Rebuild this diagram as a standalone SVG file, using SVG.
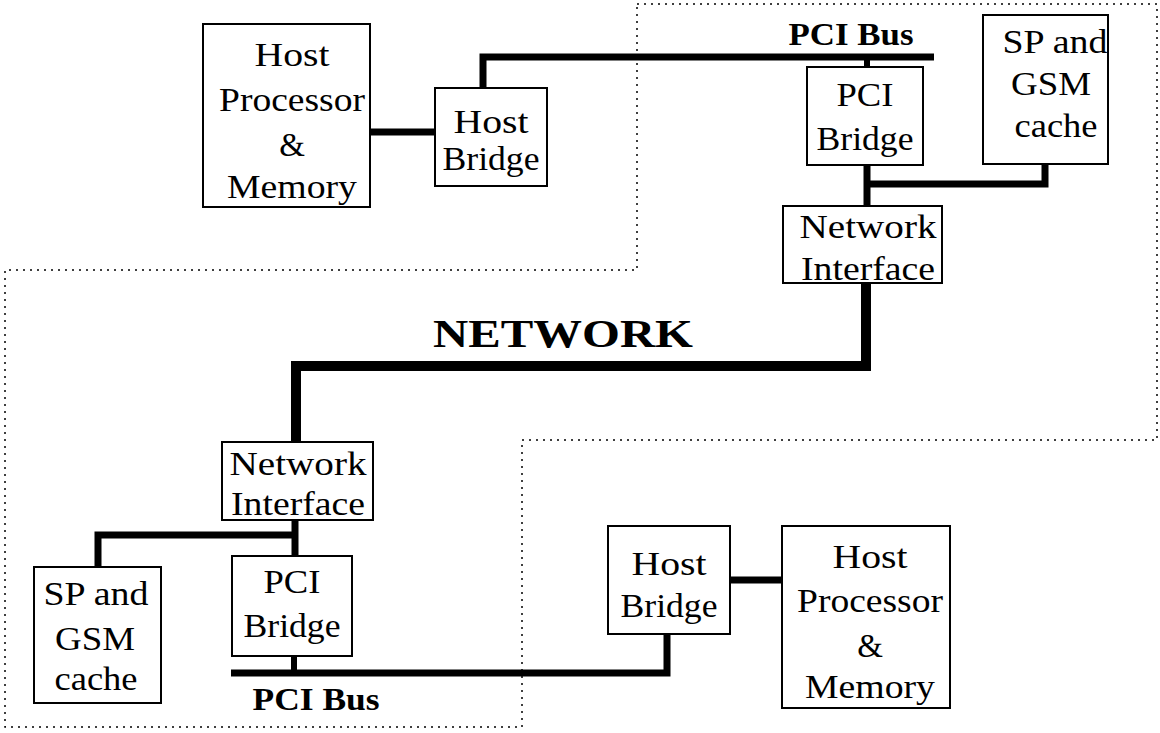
<svg xmlns="http://www.w3.org/2000/svg" width="1160" height="733" viewBox="0 0 1160 733">
  <style>
    .box { fill: #fff; stroke: #000; stroke-width: 2; }
    .lbl { font-family: "Liberation Serif", "Times New Roman", serif; font-size: 33px; text-anchor: middle; fill: #000; }
    .bus { font-family: "Liberation Serif", "Times New Roman", serif; font-weight: bold; text-anchor: middle; fill: #000; }
    .wire { fill: none; stroke: #000; stroke-width: 7; stroke-linejoin: miter; stroke-linecap: butt; }
    .net { fill: none; stroke: #000; stroke-width: 10; stroke-linejoin: miter; stroke-linecap: butt; }
    .stub { fill: none; stroke: #000; stroke-width: 6; }
    .zone { fill: none; stroke: #000; stroke-width: 1.5; stroke-dasharray: 2 5; }
  </style>

  <!-- boundary between the two machines -->
  <path id="boundary" class="zone" d="M637,4 H1157 V440 H522 V727 H5 V270 H637 Z"/>

  <!-- wiring -->
  <g id="connectors">
    <!-- upper machine -->
    <path class="wire" d="M370,132 H435"/>
    <path class="wire" d="M483,88 V57 H934"/>
    <path class="stub" d="M867,57 V67"/>
    <path class="wire" d="M867,165 V206"/>
    <path class="wire" d="M867,184 H1045 V164"/>
    <!-- network -->
    <path class="net" d="M866,283 V366 H296 V442"/>
    <!-- lower machine -->
    <path class="wire" d="M295,520 V556"/>
    <path class="wire" d="M295,535 H98 V567"/>
    <path class="stub" d="M294,656 V673"/>
    <path class="wire" d="M231,673 H667 V634"/>
    <path class="wire" d="M730,580 H782"/>
  </g>

  <text id="label-network" class="bus" x="563" y="347" font-size="40" textLength="260" lengthAdjust="spacingAndGlyphs">NETWORK</text>
  <text id="label-pci-bus-top" class="bus" x="851" y="45" font-size="32" textLength="125" lengthAdjust="spacingAndGlyphs">PCI Bus</text>
  <text id="label-pci-bus-bottom" class="bus" x="316" y="710" font-size="32" textLength="127" lengthAdjust="spacingAndGlyphs">PCI Bus</text>

  <!-- upper machine -->
  <g id="host-pm-top">
    <rect class="box" x="203" y="24" width="167" height="183"/>
    <text class="lbl" x="292" y="66" textLength="75" lengthAdjust="spacingAndGlyphs">Host</text>
    <text class="lbl" x="292" y="111" textLength="146" lengthAdjust="spacingAndGlyphs">Processor</text>
    <text class="lbl" x="292" y="156">&amp;</text>
    <text class="lbl" x="292" y="198" textLength="130" lengthAdjust="spacingAndGlyphs">Memory</text>
  </g>
  <g id="host-bridge-top">
    <rect class="box" x="435" y="88" width="112" height="98"/>
    <text class="lbl" x="491" y="133" textLength="75" lengthAdjust="spacingAndGlyphs">Host</text>
    <text class="lbl" x="491" y="170" textLength="97" lengthAdjust="spacingAndGlyphs">Bridge</text>
  </g>
  <g id="pci-bridge-top">
    <rect class="box" x="807" y="67" width="116" height="98"/>
    <text class="lbl" x="865" y="106" textLength="57" lengthAdjust="spacingAndGlyphs">PCI</text>
    <text class="lbl" x="865" y="150" textLength="97" lengthAdjust="spacingAndGlyphs">Bridge</text>
  </g>
  <g id="sp-gsm-top">
    <rect class="box" x="983" y="15" width="125" height="149"/>
    <text class="lbl" x="1055" y="53" textLength="105" lengthAdjust="spacingAndGlyphs">SP and</text>
    <text class="lbl" x="1051" y="95" textLength="80" lengthAdjust="spacingAndGlyphs">GSM</text>
    <text class="lbl" x="1056" y="137" textLength="83" lengthAdjust="spacingAndGlyphs">cache</text>
  </g>
  <g id="net-if-top">
    <rect class="box" x="783" y="206" width="159" height="77"/>
    <text class="lbl" x="868" y="238" textLength="137" lengthAdjust="spacingAndGlyphs">Network</text>
    <text class="lbl" x="868" y="280" textLength="134" lengthAdjust="spacingAndGlyphs">Interface</text>
  </g>

  <!-- lower machine -->
  <g id="net-if-bottom">
    <rect class="box" x="222" y="442" width="151" height="78"/>
    <text class="lbl" x="298" y="475" textLength="137" lengthAdjust="spacingAndGlyphs">Network</text>
    <text class="lbl" x="298" y="515" textLength="134" lengthAdjust="spacingAndGlyphs">Interface</text>
  </g>
  <g id="sp-gsm-bottom">
    <rect class="box" x="34" y="567" width="127" height="136"/>
    <text class="lbl" x="96" y="605" textLength="105" lengthAdjust="spacingAndGlyphs">SP and</text>
    <text class="lbl" x="95" y="650" textLength="80" lengthAdjust="spacingAndGlyphs">GSM</text>
    <text class="lbl" x="96" y="690" textLength="83" lengthAdjust="spacingAndGlyphs">cache</text>
  </g>
  <g id="pci-bridge-bottom">
    <rect class="box" x="232" y="556" width="120" height="100"/>
    <text class="lbl" x="292" y="593" textLength="57" lengthAdjust="spacingAndGlyphs">PCI</text>
    <text class="lbl" x="292" y="637" textLength="97" lengthAdjust="spacingAndGlyphs">Bridge</text>
  </g>
  <g id="host-bridge-bottom">
    <rect class="box" x="608" y="526" width="122" height="108"/>
    <text class="lbl" x="669" y="575" textLength="75" lengthAdjust="spacingAndGlyphs">Host</text>
    <text class="lbl" x="669" y="617" textLength="97" lengthAdjust="spacingAndGlyphs">Bridge</text>
  </g>
  <g id="host-pm-bottom">
    <rect class="box" x="782" y="526" width="168" height="182"/>
    <text class="lbl" x="870" y="568" textLength="75" lengthAdjust="spacingAndGlyphs">Host</text>
    <text class="lbl" x="870" y="612" textLength="146" lengthAdjust="spacingAndGlyphs">Processor</text>
    <text class="lbl" x="870" y="657">&amp;</text>
    <text class="lbl" x="870" y="698" textLength="130" lengthAdjust="spacingAndGlyphs">Memory</text>
  </g>
</svg>
